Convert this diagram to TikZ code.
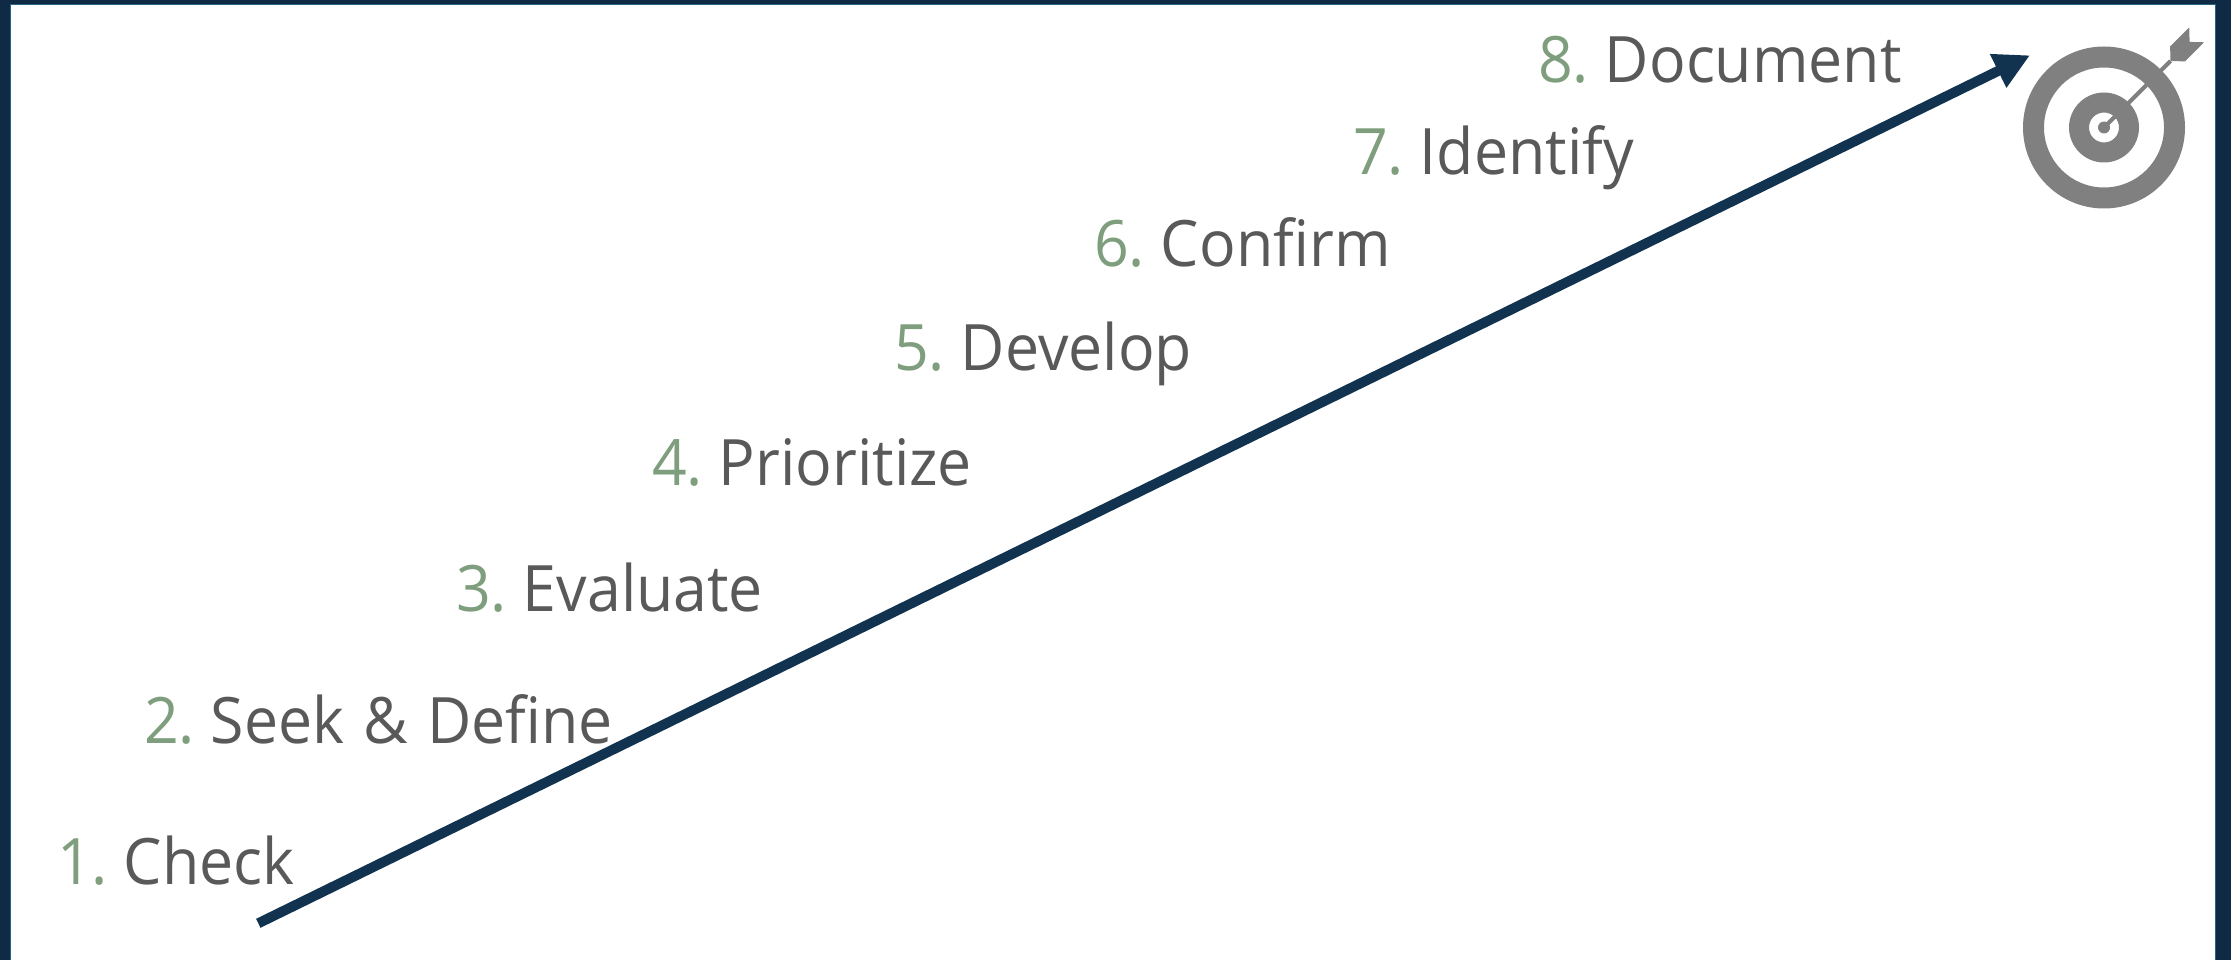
\documentclass[tikz,border=0pt]{standalone}
\usepackage{fontspec}
\setmainfont{Open Sans}[FakeStretch=0.95]
\usetikzlibrary{arrows.meta}
\definecolor{numgreen}{RGB}{126,158,125}
\definecolor{txtgray}{RGB}{89,89,89}
\definecolor{navy}{RGB}{18,51,80}
\definecolor{framenavy}{RGB}{14,42,68}
\definecolor{frameedge}{RGB}{40,100,130}
\definecolor{tgray}{RGB}{128,128,128}
\tikzset{
  steplabel/.style={anchor=base west, inner sep=0pt, outer sep=0pt, text=txtgray,
    font=\fontsize{64}{70}\selectfont},
  mainarrow/.style={draw=navy, line width=10pt, line cap=butt,
    -{Triangle[length=35.5pt,width=35pt]}},
}
\newcommand{\stepnum}[1]{\textcolor{numgreen}{#1.}\hspace{0.25em}}
\begin{document}
\begin{tikzpicture}[x=1pt,y=-1pt]
\useasboundingbox (0,0) rectangle (2231,960);
% frame
\fill[framenavy] (0,0) rectangle (2231,960);
\fill[white] (10,4) rectangle (2216,960);
\draw[frameedge, line width=1.2pt] (10.6,960) -- (10.6,4.6) -- (2215.4,4.6) -- (2215.4,960);
% labels
\node[steplabel] (l1) at (57,884) {\stepnum{1}Check};
\node[steplabel] (l2) at (144,743) {\stepnum{2}Seek\hspace{0.3em}\&\hspace{0.3em}Define};
\node[steplabel] (l3) at (456,611) {\stepnum{3}Evaluate};
\node[steplabel] (l4) at (652,485) {\stepnum{4}Prioritize};
\node[steplabel] (l5) at (894,370) {\stepnum{5}Develop};
\node[steplabel] (l6) at (1094,267) {\stepnum{6}Confirm};
\node[steplabel] (l7) at (1353,175) {\stepnum{7}Identify};
\node[steplabel] (l8) at (1538,83) {\stepnum{8}Document};
% main arrow
\coordinate (astart) at (258.3,923.3);
\coordinate (aend) at (2030,55.3);
\draw[mainarrow] (astart) -- (aend);
% target
\coordinate (tc) at (2104,127.5);
\fill[tgray, even odd rule] (tc) circle[radius=81pt] (tc) circle[radius=60pt];
\fill[tgray, even odd rule] (tc) circle[radius=35pt] (tc) circle[radius=15pt];
\fill[tgray] (tc) circle[radius=6pt];
\coordinate (fh) at (2170.5,61);
\draw[tgray, line width=4pt] (tc) -- (fh);
\fill[tgray] (fh) -- (2170.1,46.5) -- (2189.2,27.4) -- (2189.6,41.9) -- (2204.1,42.3) -- (2185,61.4) -- cycle;
\end{tikzpicture}
\end{document}
